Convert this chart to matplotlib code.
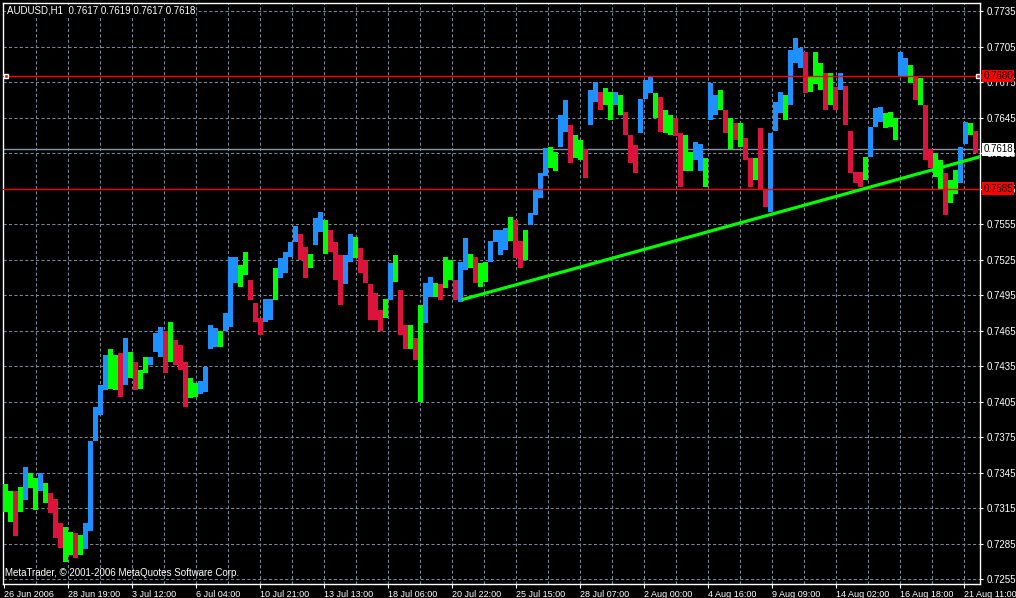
import matplotlib.pyplot as plt
from matplotlib.transforms import blended_transform_factory

plt.rcParams['font.family'] = ['Liberation Sans', 'DejaVu Sans']

# AUDUSD H1 in blocks of 5 hourly bars
symbol = "AUDUSD,H1"
last_ohlc = [0.7617, 0.7619, 0.7617, 0.7618]
block = 5

hi = [0.7335, 0.7329, 0.7329, 0.7333, 0.7350, 0.7345, 0.7340, 0.7345, 0.7336, 0.7328,
      0.7323, 0.7302, 0.7299, 0.7295, 0.7294, 0.7292, 0.7302, 0.7372, 0.7400, 0.7419,
      0.7444, 0.7449, 0.7444, 0.7446, 0.7459, 0.7447, 0.7438, 0.7432, 0.7443, 0.7443,
      0.7463, 0.7468, 0.7465, 0.7472, 0.7457, 0.7453, 0.7438, 0.7425, 0.7421, 0.7422,
      0.7434, 0.7470, 0.7467, 0.7465, 0.7480, 0.7527, 0.7527, 0.7520, 0.7531, 0.7508,
      0.7488, 0.7476, 0.7492, 0.7492, 0.7518, 0.7526, 0.7531, 0.7540, 0.7553, 0.7547,
      0.7536, 0.7530, 0.7560, 0.7565, 0.7558, 0.7550, 0.7540, 0.7529, 0.7529, 0.7547,
      0.7544, 0.7535, 0.7525, 0.7504, 0.7497, 0.7482, 0.7492, 0.7522, 0.7529, 0.7499,
      0.7470, 0.7470, 0.7459, 0.7487, 0.7505, 0.7510, 0.7505, 0.7504, 0.7527, 0.7525,
      0.7508, 0.7523, 0.7543, 0.7530, 0.7527, 0.7522, 0.7523, 0.7541, 0.7550, 0.7550,
      0.7552, 0.7561, 0.7558, 0.7541, 0.7550, 0.7564, 0.7584, 0.7598, 0.7619, 0.7620,
      0.7616, 0.7647, 0.7660, 0.7639, 0.7630, 0.7626, 0.7618, 0.7668, 0.7675, 0.7667,
      0.7670, 0.7667, 0.7667, 0.7664, 0.7650, 0.7630, 0.7622, 0.7661, 0.7677, 0.7679,
      0.7666, 0.7662, 0.7651, 0.7647, 0.7645, 0.7632, 0.7630, 0.7616, 0.7624, 0.7623,
      0.7611, 0.7674, 0.7664, 0.7668, 0.7651, 0.7645, 0.7640, 0.7640, 0.7628, 0.7611,
      0.7611, 0.7636, 0.7584, 0.7632, 0.7658, 0.7667, 0.7664, 0.7702, 0.7712, 0.7704,
      0.7700, 0.7679, 0.7700, 0.7691, 0.7683, 0.7683, 0.7671, 0.7683, 0.7672, 0.7634,
      0.7599, 0.7599, 0.7612, 0.7637, 0.7653, 0.7654, 0.7649, 0.7650, 0.7645, 0.7700,
      0.7695, 0.7689, 0.7679, 0.7678, 0.7656, 0.7618, 0.7615, 0.7609, 0.7598, 0.7592,
      0.7601, 0.7620, 0.7641, 0.7640, 0.7634]

lo = [0.7312, 0.7303, 0.7291, 0.7312, 0.7322, 0.7332, 0.7313, 0.7329, 0.7319, 0.7311,
      0.7290, 0.7281, 0.7269, 0.7275, 0.7273, 0.7275, 0.7280, 0.7296, 0.7372, 0.7394,
      0.7415, 0.7416, 0.7415, 0.7409, 0.7419, 0.7425, 0.7415, 0.7416, 0.7429, 0.7436,
      0.7447, 0.7443, 0.7429, 0.7438, 0.7436, 0.7432, 0.7400, 0.7408, 0.7409, 0.7411,
      0.7413, 0.7449, 0.7451, 0.7451, 0.7465, 0.7468, 0.7505, 0.7502, 0.7512, 0.7491,
      0.7472, 0.7461, 0.7472, 0.7474, 0.7491, 0.7509, 0.7514, 0.7527, 0.7540, 0.7525,
      0.7509, 0.7518, 0.7537, 0.7548, 0.7530, 0.7531, 0.7508, 0.7487, 0.7504, 0.7523,
      0.7526, 0.7514, 0.7505, 0.7474, 0.7474, 0.7465, 0.7476, 0.7491, 0.7506, 0.7461,
      0.7449, 0.7449, 0.7440, 0.7405, 0.7471, 0.7493, 0.7493, 0.7491, 0.7501, 0.7508,
      0.7491, 0.7489, 0.7516, 0.7518, 0.7505, 0.7502, 0.7506, 0.7523, 0.7540, 0.7529,
      0.7533, 0.7541, 0.7526, 0.7518, 0.7525, 0.7554, 0.7563, 0.7577, 0.7596, 0.7602,
      0.7600, 0.7620, 0.7633, 0.7607, 0.7611, 0.7609, 0.7594, 0.7639, 0.7658, 0.7651,
      0.7656, 0.7643, 0.7656, 0.7647, 0.7630, 0.7607, 0.7598, 0.7632, 0.7661, 0.7666,
      0.7645, 0.7633, 0.7632, 0.7630, 0.7629, 0.7586, 0.7600, 0.7600, 0.7609, 0.7600,
      0.7586, 0.7643, 0.7647, 0.7651, 0.7632, 0.7618, 0.7626, 0.7620, 0.7609, 0.7586,
      0.7592, 0.7584, 0.7569, 0.7565, 0.7634, 0.7649, 0.7643, 0.7656, 0.7691, 0.7687,
      0.7666, 0.7667, 0.7673, 0.7668, 0.7651, 0.7656, 0.7651, 0.7668, 0.7639, 0.7598,
      0.7590, 0.7586, 0.7592, 0.7612, 0.7637, 0.7641, 0.7636, 0.7637, 0.7626, 0.7679,
      0.7679, 0.7674, 0.7660, 0.7656, 0.7609, 0.7602, 0.7595, 0.7584, 0.7563, 0.7573,
      0.7580, 0.7590, 0.7623, 0.7630, 0.7615]

clr = ("ggrgbggbgr" "rrggrgbbbb" "bggrbgrggb" "bbrgrrrggb" "bbbgbbbggr"
       "rrbbgbbbbr" "rgbbgrrrbb" "grrrrrgbgr" "rgrgbbgrgg" "rbbgrggbbb"
       "bgrrgbbbbg" "gbbrggrbbr" "ggbgrrrbbb" "grggrrggbb" "gbbgrgrgrr"
       "grrbbbgbbb" "rgggrgrbrr" "rrgbbbgggb" "bgrgrrggrg" "gbbgr")

date_labels = ["26 Jun 2006", "28 Jun 19:00", "3 Jul 12:00", "6 Jul 04:00",
               "10 Jul 21:00", "13 Jul 13:00", "18 Jul 06:00", "20 Jul 22:00",
               "25 Jul 15:00", "28 Jul 07:00", "2 Aug 00:00", "4 Aug 16:00",
               "9 Aug 09:00", "14 Aug 02:00", "16 Aug 18:00", "21 Aug 11:00"]
bars_per_label = 64

red_levels = [0.7680, 0.7585]
trend_start = (458, 0.7491)
trend_end = (977, 0.7612)

colors = {'b': '#1e90ff', 'g': '#00ff00', 'r': '#dc143c'}
grid_col = '#778899'

fig = plt.figure(figsize=(10.16, 5.98), dpi=100, facecolor='black')
ax = fig.add_axes([3 / 1016, 14 / 598, 977 / 1016, 581 / 598])
ax.set_facecolor('black')

ax.set_xlim(-0.5, 976.5)
ax.set_ylim(0.72508, 0.77418)

# grid
for i in range(1, 31):
    ax.axvline(i * 32, color=grid_col, lw=0.75, dashes=(3, 2.2), zorder=1)
yt = [0.7255 + 0.003 * i for i in range(17)]
for y in yt:
    ax.axhline(y, color=grid_col, lw=0.75, dashes=(3, 2.2), zorder=1)

# price bars
xs = [block * k + (block - 1) / 2 for k in range(len(hi))]
ax.bar(xs, [h - l for h, l in zip(hi, lo)], bottom=lo, width=block,
       color=[colors[c] for c in clr], linewidth=0, antialiased=False, zorder=3)

# horizontal lines
for lvl in red_levels:
    ax.axhline(lvl, color='red', lw=1, zorder=4)
ax.axhline(last_ohlc[3], color='#8894a4', lw=1, zorder=2)
ax.plot([2, 974.5], [red_levels[0]] * 2, 's', ms=3.2, mfc='red', mec='white',
        mew=1, zorder=6, clip_on=False)

# trend line, extended to the right edge
x0, y0 = trend_start
x1, y1 = trend_end
ax.plot([x0, x1], [y0, y1], color='#00ff00', lw=2.3, zorder=5,
        solid_capstyle='butt')

# axes
for s in ax.spines.values():
    s.set_color('white')
    s.set_linewidth(1)
ax.yaxis.tick_right()
ax.set_yticks(yt)
ax.set_yticklabels([f'{y:.4f}' for y in yt])
ax.tick_params(axis='y', colors='white', labelsize=7, length=2.5, pad=2.5)
ax.set_xticks([i * bars_per_label for i in range(len(date_labels))])
ax.set_xticklabels(date_labels)
ax.tick_params(axis='x', colors='white', labelsize=6.5, length=3, pad=1)
for lb in ax.get_xticklabels():
    lb.set_ha('left')

# price tags on the right axis
tr = blended_transform_factory(ax.transAxes, ax.transData)
tags = [(red_levels[0], 'red'), (last_ohlc[3], 'white'), (red_levels[1], 'red')]
for lvl, fc in tags:
    ax.text(1.0036, lvl, f'{lvl:.4f}', transform=tr, ha='left', va='center',
            fontsize=7, color='black', zorder=10, clip_on=False,
            bbox=dict(boxstyle='square,pad=0.12', fc=fc, ec='none'))

header = symbol + '  ' + ' '.join(f'{v:.4f}' for v in last_ohlc)
fig.text(7 / 1016, 1 - 13.5 / 598, header, color='white', fontsize=7,
         va='baseline', ha='left',
         bbox=dict(boxstyle='square,pad=0.1', fc='black', ec='none'))
fig.text(5 / 1016, 1 - 576.5 / 598,
         'MetaTrader, \u00a9 2001-2006 MetaQuotes Software Corp.',
         color='white', fontsize=7, va='baseline', ha='left')

fig.savefig('out.png', dpi=100, facecolor='black')
